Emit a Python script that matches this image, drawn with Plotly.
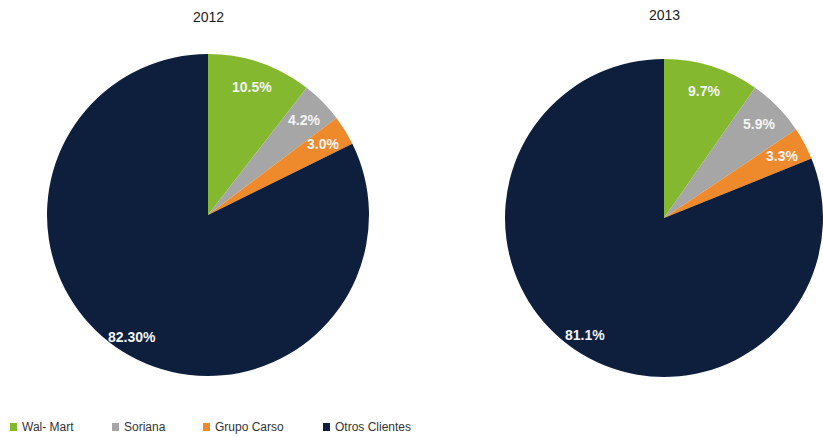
import math
import plotly.graph_objects as go

# Client share of sales by year
categories = ["Wal- Mart", "Soriana", "Grupo Carso", "Otros Clientes"]
years = ["2012", "2013"]
shares_2012 = [10.5, 4.2, 3.0, 82.30]
shares_2013 = [9.7, 5.9, 3.3, 81.1]
labels_2012 = ["10.5%", "4.2%", "3.0%", "82.30%"]
labels_2013 = ["9.7%", "5.9%", "3.3%", "81.1%"]

colors = ["#84b82f", "#a6a6a6", "#ee8a2b", "#0e1f3e"]

W, H = 823, 437
LABEL_FONT = "Liberation Sans Narrow, Arial Narrow, Liberation Sans, Arial, sans-serif"
TEXT_FONT = "Liberation Sans, Arial, sans-serif"

# pie geometry in pixels: (center x, center y from top, radius)
pies = [
    (208, 215, 161),
    (664, 218, 159),
]

fig = go.Figure()
annotations = []

for (cx, cy, r), year, vals, labs in zip(pies, years, [shares_2012, shares_2013], [labels_2012, labels_2013]):
    x0, x1 = (cx - r) / W, (cx + r) / W
    y0, y1 = (H - (cy + r)) / H, (H - (cy - r)) / H
    fig.add_trace(go.Pie(
        labels=categories,
        values=vals,
        sort=False,
        direction="clockwise",
        rotation=0,
        marker=dict(colors=colors, line=dict(width=0)),
        textinfo="none",
        hoverinfo="label+percent",
        showlegend=False,
        domain=dict(x=[x0, x1], y=[y0, y1]),
    ))
    # value labels placed at the middle angle of each slice
    total = sum(vals)
    cum = 0.0
    for v, lab in zip(vals, labs):
        mid = (cum + v / 2) / total * 2 * math.pi
        cum += v
        frac = 0.89 if v / total > 0.5 else 0.84
        px = cx + frac * r * math.sin(mid)
        py = cy - frac * r * math.cos(mid)
        annotations.append(dict(
            x=px / W, y=1 - py / H, xref="paper", yref="paper",
            text=lab, showarrow=False, xanchor="center", yanchor="middle",
            font=dict(family=LABEL_FONT, size=14, color="#f4f4f4", weight="bold"),
        ))
    # year title
    annotations.append(dict(
        x=cx / W, y=1 - (17 if year == "2012" else 15) / H, xref="paper", yref="paper",
        text=year, showarrow=False, xanchor="center", yanchor="middle",
        font=dict(family=TEXT_FONT, size=14, color="#1a1a1a"),
    ))

# legend row along the bottom
legend_x = [10, 112, 203, 323]
legend_y = 427
shapes = []
for lx, name, col in zip(legend_x, categories, colors):
    shapes.append(dict(
        type="rect", xref="paper", yref="paper",
        x0=lx / W, x1=(lx + 7) / W, y0=1 - (legend_y + 4) / H, y1=1 - (legend_y - 4) / H,
        fillcolor=col, line=dict(width=0),
    ))
    annotations.append(dict(
        x=(lx + 10) / W, y=1 - legend_y / H, xref="paper", yref="paper",
        text=name, showarrow=False, xanchor="left", yanchor="middle",
        font=dict(family=TEXT_FONT, size=12, color="#333333"),
    ))

fig.update_layout(
    width=W, height=H,
    margin=dict(l=0, r=0, t=0, b=0),
    paper_bgcolor="white",
    plot_bgcolor="white",
    annotations=annotations,
    shapes=shapes,
)

fig.write_html("out.html")
